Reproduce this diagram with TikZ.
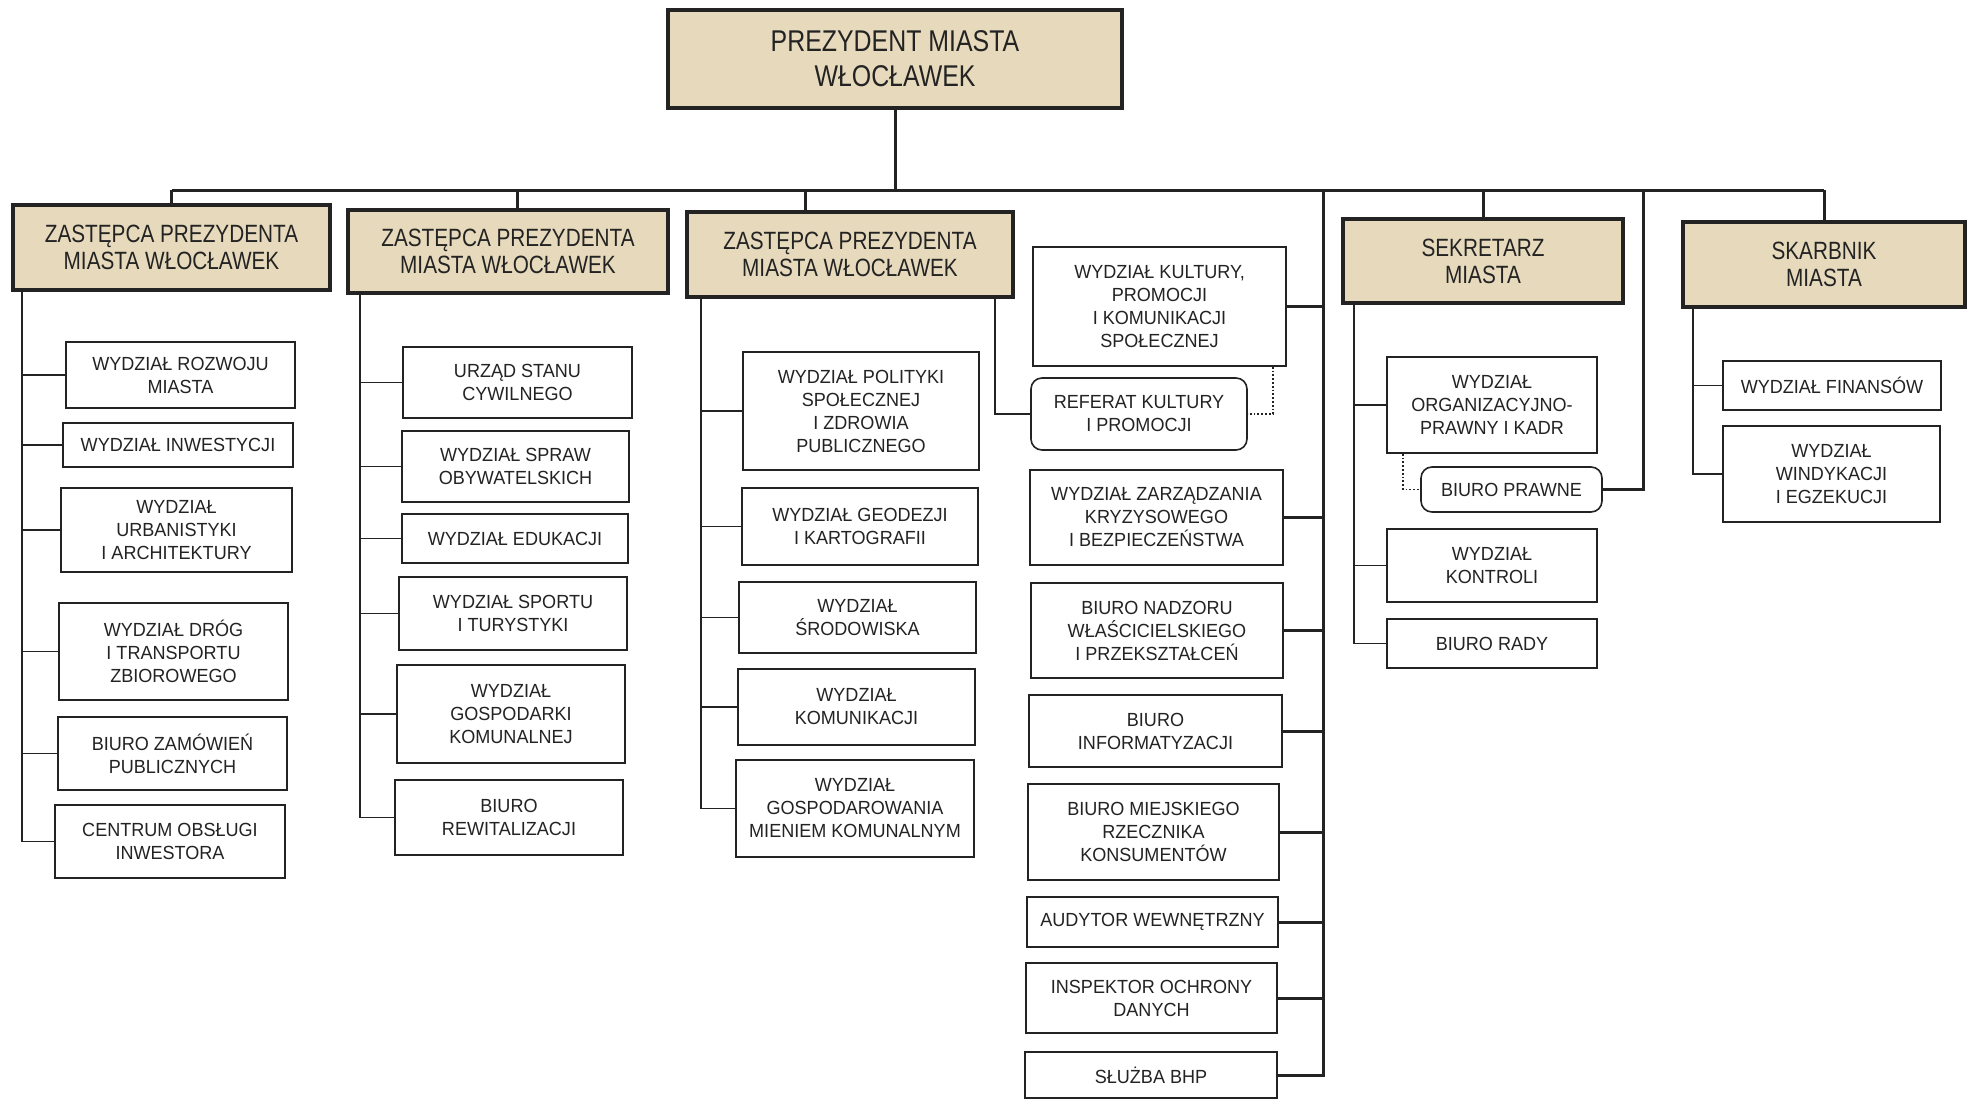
\documentclass[tikz,border=0pt]{standalone}
\usepackage{fontspec}
\setmainfont[FakeStretch=0.95]{Liberation Sans}
\newfontfamily\headf[FakeStretch=0.83]{Liberation Sans}
\definecolor{headfill}{RGB}{231,218,188}
\definecolor{ink}{RGB}{35,35,35}
\tikzset{
  sub/.style={draw=ink, line width=1.6pt, fill=white, align=center, inner sep=0pt, text=ink, font=\fontsize{19}{23}\selectfont},
  rsub/.style={sub, rounded corners=11pt},
  head/.style={draw=ink, line width=3.2pt, fill=headfill, align=center, inner sep=0pt, text=ink, font=\headf\fontsize{25}{27}\selectfont},
  conn/.style={draw=ink, line width=1.8pt},
  tconn/.style={draw=ink, line width=3pt},
  dconn/.style={draw=ink, line width=1.8pt, dotted},
}
\begin{document}
\begin{tikzpicture}[x=1pt,y=-1pt]
\useasboundingbox (0,0) rectangle (1971,1100);

% top and head boxes
\node[head, font=\headf\fontsize{30}{35}\selectfont, minimum width=454pt, minimum height=98pt] (top) at (895,59) {PREZYDENT MIASTA\\WŁOCŁAWEK};
\node[head, minimum width=317pt, minimum height=85pt] (z1) at (171.5,247.5) {ZASTĘPCA PREZYDENTA\\MIASTA WŁOCŁAWEK};
\node[head, minimum width=320pt, minimum height=83pt] (z2) at (508,251.5) {ZASTĘPCA PREZYDENTA\\MIASTA WŁOCŁAWEK};
\node[head, minimum width=326pt, minimum height=85pt] (z3) at (850,254.5) {ZASTĘPCA PREZYDENTA\\MIASTA WŁOCŁAWEK};
\node[head, minimum width=280pt, minimum height=84pt] (sek) at (1483,261) {SEKRETARZ\\MIASTA};
\node[head, minimum width=282pt, minimum height=85pt] (skar) at (1824,264.5) {SKARBNIK\\MIASTA};

% column 1
\node[sub, minimum width=229pt, minimum height=66pt] (a1) at (180.5,375) {WYDZIAŁ ROZWOJU\\MIASTA};
\node[sub, minimum width=230pt, minimum height=44pt] (a2) at (178,445) {WYDZIAŁ INWESTYCJI};
\node[sub, minimum width=231pt, minimum height=84pt] (a3) at (176.5,530) {WYDZIAŁ\\URBANISTYKI\\I ARCHITEKTURY};
\node[sub, minimum width=229pt, minimum height=97pt] (a4) at (173.5,651.5) {WYDZIAŁ DRÓG\\I TRANSPORTU\\ZBIOROWEGO};
\node[sub, minimum width=229pt, minimum height=73pt] (a5) at (172.5,753.5) {BIURO ZAMÓWIEŃ\\PUBLICZNYCH};
\node[sub, minimum width=230pt, minimum height=73pt] (a6) at (170,841.5) {CENTRUM OBSŁUGI\\INWESTORA};

% column 2
\node[sub, minimum width=229pt, minimum height=71pt] (b1) at (517.5,382.5) {URZĄD STANU\\CYWILNEGO};
\node[sub, minimum width=227pt, minimum height=71pt] (b2) at (515.5,466.5) {WYDZIAŁ SPRAW\\OBYWATELSKICH};
\node[sub, minimum width=226pt, minimum height=49pt] (b3) at (515,538.5) {WYDZIAŁ EDUKACJI};
\node[sub, minimum width=228pt, minimum height=73pt] (b4) at (513,613.5) {WYDZIAŁ SPORTU\\I TURYSTYKI};
\node[sub, minimum width=228pt, minimum height=98pt] (b5) at (511,714) {WYDZIAŁ\\GOSPODARKI\\KOMUNALNEJ};
\node[sub, minimum width=228pt, minimum height=75pt] (b6) at (509,817.5) {BIURO\\REWITALIZACJI};

% column 3
\node[sub, minimum width=236pt, minimum height=118pt] (c1) at (861,411) {WYDZIAŁ POLITYKI\\SPOŁECZNEJ\\I ZDROWIA\\PUBLICZNEGO};
\node[sub, minimum width=236pt, minimum height=77pt] (c2) at (860,526.5) {WYDZIAŁ GEODEZJI\\I KARTOGRAFII};
\node[sub, minimum width=237pt, minimum height=71pt] (c3) at (857.5,617.5) {WYDZIAŁ\\ŚRODOWISKA};
\node[sub, minimum width=237pt, minimum height=76pt] (c4) at (856.5,707) {WYDZIAŁ\\KOMUNIKACJI};
\node[sub, minimum width=238pt, minimum height=97pt] (c5) at (855,808.5) {WYDZIAŁ\\GOSPODAROWANIA\\MIENIEM KOMUNALNYM};

% column 4
\node[sub, minimum width=253pt, minimum height=119pt] (d1) at (1159.5,306.5) {WYDZIAŁ KULTURY,\\PROMOCJI\\I KOMUNIKACJI\\SPOŁECZNEJ};
\node[rsub, minimum width=216pt, minimum height=72pt] (ref) at (1139,414) {REFERAT KULTURY\\I PROMOCJI};
\node[sub, minimum width=253pt, minimum height=95pt] (d2) at (1156.5,517.5) {WYDZIAŁ ZARZĄDZANIA\\KRYZYSOWEGO\\I BEZPIECZEŃSTWA};
\node[sub, minimum width=252pt, minimum height=95pt] (d3) at (1157,630.5) {BIURO NADZORU\\WŁAŚCICIELSKIEGO\\I PRZEKSZTAŁCEŃ};
\node[sub, minimum width=253pt, minimum height=72pt] (d4) at (1155.5,731) {BIURO\\INFORMATYZACJI};
\node[sub, minimum width=251pt, minimum height=96pt] (d5) at (1153.5,832) {BIURO MIEJSKIEGO\\RZECZNIKA\\KONSUMENTÓW};
\node[sub, minimum width=251pt, minimum height=50pt] (d6) at (1152.5,922) {AUDYTOR WEWNĘTRZNY};
\node[sub, minimum width=251pt, minimum height=70pt] (d7) at (1151.5,998) {INSPEKTOR OCHRONY\\DANYCH};
\node[sub, minimum width=252pt, minimum height=46pt] (d8) at (1151,1075) {SŁUŻBA BHP};

% column 5
\node[sub, minimum width=210pt, minimum height=96pt] (e1) at (1492,405) {WYDZIAŁ\\ORGANIZACYJNO-\\PRAWNY I KADR};
\node[rsub, minimum width=181pt, minimum height=45pt] (pr) at (1511.5,489.5) {BIURO PRAWNE};
\node[sub, minimum width=210pt, minimum height=73pt] (e2) at (1492,565.5) {WYDZIAŁ\\KONTROLI};
\node[sub, minimum width=210pt, minimum height=49pt] (e3) at (1492,643.5) {BIURO RADY};

% column 6
\node[sub, minimum width=218pt, minimum height=49pt] (f1) at (1832,385.5) {WYDZIAŁ FINANSÓW};
\node[sub, minimum width=217pt, minimum height=96pt] (f2) at (1831.5,474) {WYDZIAŁ\\WINDYKACJI\\I EGZEKUCJI};

% helper coordinates
\coordinate (bus) at (0,190);
\coordinate (sA) at (22,0);
\coordinate (sB) at (360,0);
\coordinate (sC) at (701,0);
\coordinate (sD) at (1323,0);
\coordinate (sE) at (1354,0);
\coordinate (sF) at (1693,0);
\coordinate (sP) at (1643,0);
\coordinate (sR) at (995,0);
\coordinate (z2x) at (517,0);
\coordinate (z3x) at (805,0);

% bus and drops
\draw[tconn] (top.south) -- (top.south |- bus);
\draw[tconn] (z1.north |- bus) -- (skar.north |- bus);
\draw[tconn] (z1.north) -- (z1.north |- bus);
\draw[tconn] (z2x |- z2.north) -- (z2x |- bus);
\draw[tconn] (z3x |- z3.north) -- (z3x |- bus);
\draw[tconn] (sek.north) -- (sek.north |- bus);
\draw[tconn] (skar.north) -- (skar.north |- bus);

% column 1
\draw[conn] (sA |- z1.south) |- (a6.west);
\foreach \n in {a1,a2,a3,a4,a5} \draw[conn] (\n.west) -- (\n.west -| sA);
% column 2
\draw[conn] (sB |- z2.south) |- (b6.west);
\foreach \n in {b1,b2,b3,b4,b5} \draw[conn] (\n.west) -- (\n.west -| sB);
% column 3
\draw[conn] (sC |- z3.south) |- (c5.west);
\foreach \n in {c1,c2,c3,c4} \draw[conn] (\n.west) -- (\n.west -| sC);
\draw[conn] (sR |- z3.south) |- (ref.west);
% column 4
\draw[tconn] (sD |- bus) |- (d8.east);
\foreach \n in {d1,d2,d3,d4,d5,d6,d7} \draw[tconn] (\n.east) -- (\n.east -| sD);
\draw[dconn] ([xshift=-14pt]d1.south east) |- (ref.east);
% column 5
\draw[conn] (sE |- sek.south) |- (e3.west);
\foreach \n in {e1,e2} \draw[conn] (\n.west) -- (\n.west -| sE);
\draw[tconn] (sP |- bus) |- (pr.east);
\draw[dconn] ([xshift=17pt]e1.south west) |- (pr.west);
% column 6
\draw[conn] (sF |- skar.south) |- (f2.west);
\draw[conn] (f1.west) -- (f1.west -| sF);
\end{tikzpicture}
\end{document}
